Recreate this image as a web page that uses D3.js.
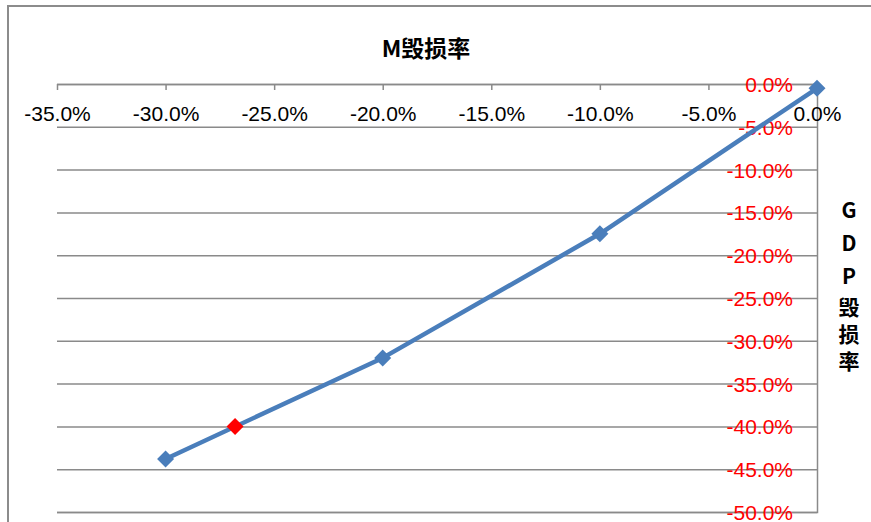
<!DOCTYPE html>
<html><head><meta charset="utf-8">
<script src="https://cdn.jsdelivr.net/npm/d3@7"></script>
<style>body{margin:0;background:#fff}svg{display:block}</style>
</head><body>
<svg id="c" width="871" height="522"></svg>
<script>
const title = "M毁损率";
const yTitle = ["G","D","P","毁","损","率"];
const xTicks = [-0.35,-0.30,-0.25,-0.20,-0.15,-0.10,-0.05,0];
const yTicks = [0,-0.05,-0.10,-0.15,-0.20,-0.25,-0.30,-0.35,-0.40,-0.45,-0.50];
const seriesX = [-0.30,-0.20,-0.10,0.0];
const seriesY = [-0.438,-0.320,-0.175,-0.005];
const pointX = [-0.268];
const pointY = [-0.400];

const svg = d3.select("#c");
const W=871,H=522;
const x = d3.scaleLinear().domain([-0.35,0]).range([57,817]);
const y = d3.scaleLinear().domain([0,-0.5]).range([84,512]);
const f1 = d3.format(".1%");
const fmt = d => f1(d).replace("\u2212","-");
const font = "'Liberation Sans', Arial, sans-serif";
const cjk = "'Noto Sans CJK SC', 'Noto Sans', sans-serif";

// outer frame
svg.append("rect").attr("x",8).attr("y",6).attr("width",W+20).attr("height",H+20)
  .attr("fill","none").attr("stroke","#8c8c8c").attr("stroke-width",2);

// horizontal gridlines (right axis)
const yAxis = d3.axisRight(y).tickValues(yTicks).tickSize(-(817-57)).tickFormat(fmt);
const gy = svg.append("g").attr("transform","translate(817,0)").call(yAxis);
gy.select(".domain").attr("stroke","#8a8a8a").attr("stroke-width",1.5);
gy.selectAll(".tick line").attr("stroke","#8a8a8a").attr("stroke-width",1.5);
gy.selectAll(".tick text").attr("x",-24).attr("text-anchor","end")
  .attr("fill","#ff0000").style("font-family",font).style("font-size","21px").attr("dy","0.36em");

// top x axis, ticks downward
const xAxis = d3.axisBottom(x).tickValues(xTicks).tickSize(6).tickFormat(fmt);
const gx = svg.append("g").attr("transform","translate(0,84)").call(xAxis);
gx.select(".domain").remove();
gx.selectAll(".tick line").attr("stroke","#8a8a8a").attr("stroke-width",1.5);
gx.selectAll(".tick text").attr("y",37).attr("dy",0)
  .attr("fill","#000").style("font-family",font).style("font-size","21px");

// title
svg.append("text").attr("x",426).attr("y",57).attr("text-anchor","middle")
  .style("font-family",cjk).style("font-weight","bold").style("font-size","23px").text(title);

// vertical stacked axis title
const yTitlePos = [210,243,276,307,334,361];
svg.append("g").selectAll("text").data(yTitle).join("text")
  .attr("x",849).attr("y",(d,i)=>yTitlePos[i]).attr("dy","0.36em").attr("text-anchor","middle")
  .style("font-family",cjk).style("font-weight","bold").style("font-size","21px").text(d=>d);

// data line
const pts = seriesX.map((v,i)=>[v,seriesY[i]]);
svg.append("path").datum(pts)
  .attr("d",d3.line().x(d=>x(d[0])).y(d=>y(d[1])))
  .attr("fill","none").attr("stroke","#4a7ebb").attr("stroke-width",4.5).attr("stroke-linejoin","round");

const diamond = r => `M0,${-r}L${r},0L0,${r}L${-r},0Z`;
svg.append("g").selectAll("path").data(pts).join("path")
  .attr("transform",d=>`translate(${x(d[0])},${y(d[1])})`)
  .attr("d",diamond(8.5)).attr("fill","#4a7ebb");

const rp = pointX.map((v,i)=>[v,pointY[i]]);
svg.append("g").selectAll("path").data(rp).join("path")
  .attr("transform",d=>`translate(${x(d[0])},${y(d[1])})`)
  .attr("d",diamond(8.5)).attr("fill","#ff0000");
</script>
</body></html>
